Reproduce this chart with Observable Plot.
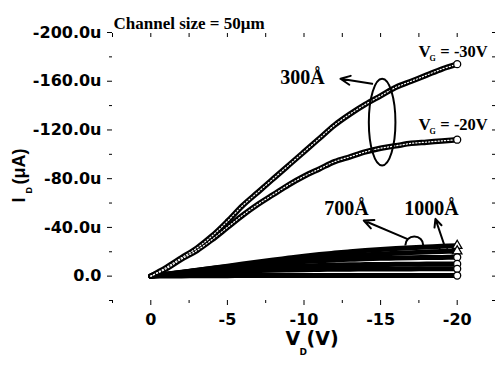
<!DOCTYPE html>
<html><head><meta charset="utf-8">
<script src="https://cdn.jsdelivr.net/npm/d3@7"></script>
<script src="https://cdn.jsdelivr.net/npm/@observablehq/plot@0.6"></script>
<style>body{margin:0;background:#fff} svg{display:block}</style>
</head><body><div id="chart"></div>
<script>
// Drain voltage (V)
const VD = [0,-1,-2,-3,-4,-5,-6,-7,-8,-9,-10,-11,-12,-13,-14,-15,-16,-17,-18,-19,-20];
// 300 Å, VG = -30 V and -20 V  (µA)
const i300_vg30 = [0,-7,-15,-23,-33,-45,-58,-69,-80,-91,-102,-113,-124,-133,-141,-148,-155,-160,-165,-170,-174];
const i300_vg20 = [0,-6,-14,-21,-30,-40,-50,-59,-67,-75,-82,-88,-94,-98,-102,-105,-107,-109,-110,-111,-112];
// 700 Å / 1000 Å family (µA)
const iThickA = [0,-1.5,-3,-4.7,-6.4,-8.2,-10,-11.7,-13.3,-14.8,-16.3,-17.7,-18.9,-20,-21,-21.9,-22.7,-23.4,-24,-24.5,-25];
const iThickB = [0,-1.6,-3.2,-4.8,-6.3,-7.8,-9.2,-10.5,-11.8,-13,-14.1,-15.1,-16,-16.8,-17.5,-18.2,-18.8,-19.3,-19.8,-20.2,-20.5];
const iThickC = [0,-1.5,-3,-4.4,-5.7,-7,-8.2,-9.3,-10.3,-11.2,-12,-12.7,-13.3,-13.8,-14.2,-14.6,-14.9,-15.1,-15.3,-15.4,-15.5];
const iThickD = [0,-1.2,-2.4,-3.5,-4.5,-5.4,-6.2,-6.9,-7.5,-8,-8.4,-8.8,-9.1,-9.3,-9.5,-9.6,-9.7,-9.8,-9.9,-10,-10];
const iThickE = [0,-0.8,-1.6,-2.3,-3,-3.6,-4.1,-4.5,-4.8,-5.1,-5.3,-5.5,-5.6,-5.7,-5.8,-5.85,-5.9,-5.95,-6,-6,-6];
const iThickF = [0,-0.1,-0.2,-0.3,-0.35,-0.4,-0.45,-0.5,-0.5,-0.5,-0.5,-0.5,-0.5,-0.5,-0.5,-0.5,-0.5,-0.5,-0.5,-0.5,-0.5];
const thickNames = ["A","B","C","D","E","F"];
const thickSeries = [iThickA,iThickB,iThickC,iThickD,iThickE,iThickF];
const thickEndSymbol = ["triangle","triangle","circle","circle","circle","circle"];

// Axis ticks
const xMajor = [0,-5,-10,-15,-20];
const xMinor = [2.5,-2.5,-7.5,-12.5,-17.5,-22.5];
const yMajor = [-200,-160,-120,-80,-40,0];
const yMinor = [-180,-140,-100,-60,-20,20];
const yTickLabels = ["-200.0u","-160.0u","-120.0u","-80.0u","-40.0u","0.0"];

// Annotations (data coordinates)
const label300 = {x:-9.9, y:-162.7, text:"300Å"};
const label700 = {x:-12.77, y:-55.5, text:"700Å"};
const label1000 = {x:-18.32, y:-55.5, text:"1000Å"};
const arrows = [
  {x1:-14.45, y1:-157.9, x2:-12.38, y2:-162},
  {x1:-16.73, y1:-30.65, x2:-13.9, y2:-45.7},
  {x1:-19.13, y1:-26.6, x2:-18.58, y2:-47}
];
const vgLabels = [
  {x:-17.47, y:-184.4, gy:-178.7, gx:-18.2, rx:-18.9, rest:"= -30V"},
  {x:-17.47, y:-124.5, gy:-118.7, gx:-18.2, rx:-18.9, rest:"= -20V"}
];

const long300 = [];
VD.forEach((v,k)=>{ long300.push({v, i:i300_vg30[k], s:"VG-30"}); long300.push({v, i:i300_vg20[k], s:"VG-20"}); });
const longThick = [];
thickSeries.forEach((arr,j)=>arr.forEach((i,k)=>longThick.push({v:VD[k], i, s:thickNames[j]})));
const ends300 = [{v:VD[20], i:i300_vg30[20]},{v:VD[20], i:i300_vg20[20]}];
const endsThick = thickSeries.map((arr,j)=>({v:VD[20], i:arr[20], sym:thickEndSymbol[j]}));

const K = 0.5523;
const ellipseSym = (rx, ry) => ({draw(c){
  c.moveTo(rx,0);
  c.bezierCurveTo(rx,K*ry,K*rx,ry,0,ry);
  c.bezierCurveTo(-K*rx,ry,-rx,K*ry,-rx,0);
  c.bezierCurveTo(-rx,-K*ry,-K*rx,-ry,0,-ry);
  c.bezierCurveTo(K*rx,-ry,rx,-K*ry,rx,0);
  c.closePath();
}});
const halfSym = (rx, ry) => ({draw(c){
  c.moveTo(-rx,0);
  c.bezierCurveTo(-rx,-K*ry,-K*rx,-ry,0,-ry);
  c.bezierCurveTo(K*rx,-ry,rx,-K*ry,rx,0);
}});

const serif = "Liberation Serif, Times New Roman, serif";
const sans = "DejaVu Sans, Verdana, sans-serif";
const arial = "Liberation Sans, Arial, sans-serif";

const plot = Plot.plot({
  width: 495, height: 365,
  marginLeft: 112, marginRight: 0, marginTop: 32, marginBottom: 65,
  style: {fontFamily: sans, fontWeight: "bold", background: "#fff", overflow: "visible"},
  x: {domain: [2.5, -22.5]},
  y: {domain: [20, -200]},
  marks: [
    // axes
    Plot.axisY({ticks: yMajor, tickFormat: d=>yTickLabels[yMajor.indexOf(d)], tickSize: 5, tickPadding: 6, fontSize: 16, fontWeight: "bold", label: null, line: true, stroke: "black"}),
    Plot.axisY({ticks: yMinor, tickSize: 3, text: null, label: null}),
    Plot.axisY({anchor: "right", ticks: yMajor.concat(yMinor), tickSize: 4, dx: -4, text: null, label: null}),
    Plot.axisX({ticks: xMajor, tickFormat: d=>String(d), tickSize: 5, tickPadding: 8, fontSize: 16, fontWeight: "bold", label: null, line: true}),
    Plot.axisX({ticks: xMinor, tickSize: 3, text: null, label: null}),
    Plot.axisX({anchor: "top", ticks: xMajor.concat(xMinor), tickSize: 4, dy: 4, text: null, label: null, line: true}),
    // 700/1000 Å family
    Plot.line(longThick, {x:"v", y:"i", z:"s", stroke:"black", strokeWidth:5, strokeLinecap:"round", curve:"catmull-rom"}),
    Plot.dot(endsThick, {x:"v", y:"i", symbol:"sym", r:3.5, fill:"white", stroke:"black", strokeWidth:1.3}),
    // 300 Å curves
    Plot.line(long300, {x:"v", y:"i", z:"s", stroke:"black", strokeWidth:5.5, strokeLinecap:"round", curve:"catmull-rom"}),
    Plot.line(long300, {x:"v", y:"i", z:"s", stroke:"white", strokeWidth:1.2, strokeDasharray:"1.2 2", curve:"catmull-rom"}),
    Plot.dot(ends300, {x:"v", y:"i", r:3.5, fill:"white", stroke:"black", strokeWidth:1.3}),
    // annotations
    Plot.dot([{x:-15.1, y:-126.4}], {x:"x", y:"y", symbol: ellipseSym(13.3, 43.3), fill:"none", stroke:"black", strokeWidth:2}),
    Plot.dot([{x:-17.2, y:-25.2}], {x:"x", y:"y", symbol: halfSym(9, 9), fill:"none", stroke:"black", strokeWidth:2}),
    Plot.dot([{x:-19.1, y:-21.5}], {x:"x", y:"y", symbol: halfSym(4, 4), fill:"none", stroke:"black", strokeWidth:1.5}),
    Plot.arrow(arrows, {x1:"x1", y1:"y1", x2:"x2", y2:"y2", stroke:"black", strokeWidth:2, headLength:8, headAngle:50}),
    Plot.text([label300, label700, label1000], {x:"x", y:"y", text:"text", fontFamily: serif, fontSize: 20, fontWeight:"bold"}),
    Plot.text(vgLabels, {x:"x", y:"y", text:()=>"V", fontFamily: serif, fontSize: 17, fontWeight:"bold", textAnchor:"start"}),
    Plot.text(vgLabels, {x:"gx", y:"gy", text:()=>"G", fontFamily: serif, fontSize: 8, fontWeight:"bold", textAnchor:"start"}),
    Plot.text(vgLabels, {x:"rx", y:"y", text:"rest", fontFamily: serif, fontSize: 16.5, fontWeight:"bold", textAnchor:"start"}),
    // title
    Plot.text(["Channel size = 50μm"], {frameAnchor:"top-left", text:d=>d, dx:1, dy:-16, textAnchor:"start", fontFamily: serif, fontSize: 17, fontWeight:"bold"}),
    // x axis title  V_D(V)
    Plot.text(["V"], {frameAnchor:"bottom", text:d=>d, dx:-18.5, dy:44, textAnchor:"start", fontSize:19, fontWeight:"bold"}),
    Plot.text(["D"], {frameAnchor:"bottom", text:d=>d, dx:-4.5, dy:54, textAnchor:"start", fontSize:9, fontWeight:"bold"}),
    Plot.text(["(V)"], {frameAnchor:"bottom", text:d=>d, dx:2.5, dy:44, textAnchor:"start", fontSize:19, fontWeight:"bold"}),
    // y axis title  I_D(μA), rotated, reading upward
    Plot.text(["I"], {frameAnchor:"left", text:d=>d, dx:-93, dy:36, rotate:-90, textAnchor:"start", fontFamily: arial, fontSize:18, fontWeight:"bold"}),
    Plot.text(["D"], {frameAnchor:"left", text:d=>d, dx:-83, dy:27, rotate:-90, textAnchor:"start", fontFamily: arial, fontSize:9, fontWeight:"bold"}),
    Plot.text(["(μA)"], {frameAnchor:"left", text:d=>d, dx:-93, dy:18, rotate:-90, textAnchor:"start", fontFamily: arial, fontSize:18, fontWeight:"bold"})
  ]
});
document.getElementById("chart").appendChild(plot);
</script>
</body></html>
